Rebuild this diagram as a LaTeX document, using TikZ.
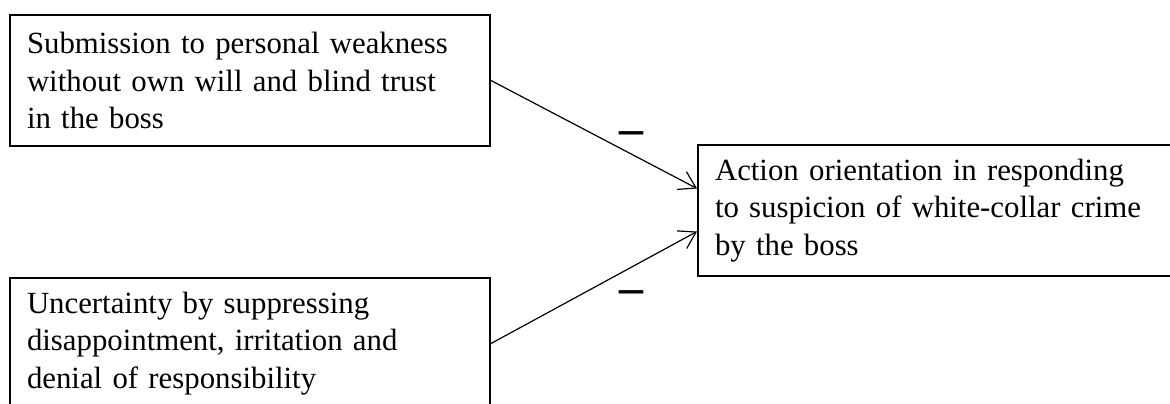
\documentclass[tikz,border=0pt]{standalone}
\usepackage{fontspec}
\setmainfont{Liberation Serif}
\usetikzlibrary{arrows.meta,positioning}

\begin{document}
\begin{tikzpicture}[
    x=0.5pt, y=-0.5pt,
    factor/.style={rectangle, draw, line width=1pt, minimum width=240pt, minimum height=65.5pt, text width=223pt, inner xsep=8.5pt, align=left, anchor=north west, font=\fontsize{15.4}{18.6}\selectfont},
    arrow/.style={-{Straight Barb[length=8pt,width=10pt]}, line width=0.6pt},
    sign/.style={inner sep=0pt, font=\fontsize{24}{24}\selectfont\bfseries}
]
\clip (0,0) rectangle (1170,403);
\node[factor] (sub) at (9,14) {Submission to personal weakness\\without own will and blind trust\\in the boss};
\node[factor] (unc) at (9,277) {Uncertainty by suppressing\\disappointment, irritation and\\denial of responsibility};
\node[factor] (act) at (697,144) {Action orientation in responding\\to suspicion of white-collar crime\\by the boss};
\node[sign] (neg1) at (631,138) {–};
\node[sign] (neg2) at (631,297) {–};
\draw[arrow] (sub.east) -- ([yshift=11pt]act.west);
\draw[arrow] (unc.east) -- ([yshift=-10.5pt]act.west);
\end{tikzpicture}
\end{document}
